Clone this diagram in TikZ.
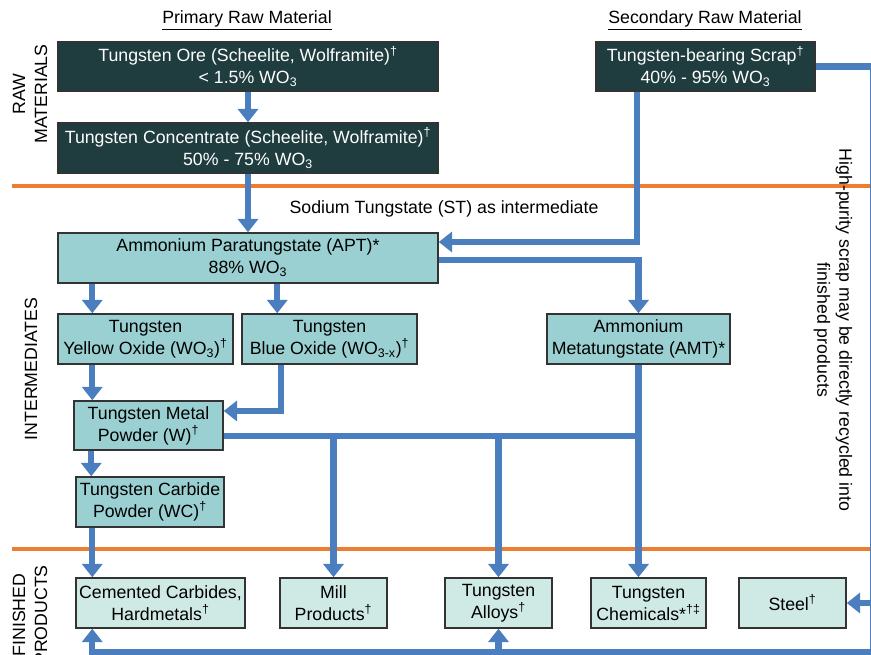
\documentclass[tikz,border=0pt]{standalone}
\usepackage{fontspec}
\setmainfont{Liberation Sans}
\usepackage{tikz}
\usetikzlibrary{arrows.meta}
\definecolor{rawfill}{HTML}{1F3C3E}
\definecolor{midfill}{HTML}{9BD0D2}
\definecolor{endfill}{HTML}{CFEAE4}
\definecolor{flowblue}{HTML}{4A7EBF}
\definecolor{lineorange}{HTML}{ED7D31}
\newcommand{\dg}{\textsuperscript{†}}
\newcommand{\wo}{WO\textsubscript{3}}
\tikzstyle{box}=[draw=black!80, line width=1.1pt, align=center, inner sep=1pt, font=\fontsize{13.3}{16.5}\selectfont]
\tikzstyle{rawbox}=[box, fill=rawfill, text=white]
\tikzstyle{midbox}=[box, fill=midfill]
\tikzstyle{endbox}=[box, fill=endfill, minimum height=37.5pt]
\tikzstyle{pipe}=[draw=flowblue, line width=4.8pt]
\tikzstyle{flow}=[pipe, -{Triangle[width=15pt,length=10pt]}]
\tikzstyle{divider}=[draw=lineorange, line width=2.4pt]
\tikzstyle{caption}=[font=\fontsize{13.3}{16.5}\selectfont, align=center]

\begin{document}
\begin{tikzpicture}[x=0.75pt, y=-0.75pt]
  \useasboundingbox (0,0) rectangle (871,655);
  % section dividers
  \draw[divider] (12,186) -- (871,186);
  \draw[divider] (12,549) -- (871,549);
  % headings
  \node[caption] (primhead) at (247,20) {\underline{Primary Raw Material}};
  \node[caption] (sechead) at (705,20) {\underline{Secondary Raw Material}};
  \node[caption, rotate=90] (rawlab) at (30,94) {RAW\\MATERIALS};
  \node[caption, rotate=90] (midlab) at (31,369) {INTERMEDIATES};
  \node[caption, rotate=90] (endlab) at (30,615) {FINISHED\\PRODUCTS};
  \node[caption, rotate=-90] (scraplab) at (833,330) {High-purity scrap may be directly recycled into\\finished products};
  % raw materials
  \node[rawbox, minimum width=285pt, minimum height=36.75pt] (ore) at (248,66.5) {Tungsten Ore (Scheelite, Wolframite)\dg\\< 1.5\% \wo};
  \node[rawbox, minimum width=285pt, minimum height=37.5pt] (conc) at (248,148) {Tungsten Concentrate (Scheelite, Wolframite)\dg\\50\% - 75\% \wo};
  \node[rawbox, minimum width=164.25pt, minimum height=36.75pt] (scrap) at (705.5,66.5) {Tungsten-bearing Scrap\dg\\40\% - 95\% \wo};
  % intermediates
  \node[midbox, minimum width=285pt, minimum height=37.5pt] (apt) at (248,258) {Ammonium Paratungstate (APT)*\\88\% \wo};
  \node[midbox, minimum width=131.25pt, minimum height=37.5pt] (yellow) at (145.5,339) {Tungsten\\Yellow Oxide (\wo)\dg};
  \node[midbox, minimum width=131.25pt, minimum height=37.5pt] (blue) at (329.5,339) {Tungsten\\Blue Oxide (WO\textsubscript{3-x})\dg};
  \node[midbox, minimum width=137.25pt, minimum height=37.5pt] (amt) at (638.5,339) {Ammonium\\Metatungstate (AMT)*};
  \node[midbox, minimum width=111.75pt, minimum height=36.75pt] (metal) at (148.5,425.5) {Tungsten Metal\\Powder (W)\dg};
  \node[midbox, minimum width=111pt, minimum height=37.5pt] (wc) at (150,502) {Tungsten Carbide\\Powder (WC)\dg};
  \node[caption] (stlab) at (444,209) {Sodium Tungstate (ST) as intermediate};
  % finished products
  \node[endbox, minimum width=126.75pt] (cemented) at (160.5,603) {Cemented Carbides,\\Hardmetals\dg};
  \node[endbox, minimum width=80.25pt] (mill) at (333.5,603) {Mill\\Products\dg};
  \node[endbox, minimum width=80.25pt] (alloys) at (498.5,603) {Tungsten\\Alloys\dg};
  \node[endbox, minimum width=86.25pt] (chem) at (648.5,603) {Tungsten\\Chemicals*\textsuperscript{†‡}};
  \node[endbox, minimum width=80.25pt] (steel) at (792.5,603) {Steel\dg};
  % flows
  \draw[flow] (ore) -- (conc);
  \draw[flow] (conc) -- (apt);
  \draw[flow] ([xshift=31.5pt]scrap.south west) |- ([yshift=12pt]apt.east);
  \draw[flow] ([yshift=-1.5pt]apt.east) -| (amt.north);
  \draw[flow] ([xshift=26.25pt]apt.south west) -- ([xshift=26.25pt]yellow.north west);
  \draw[flow] ([xshift=165pt]apt.south west) -- ([xshift=165pt]apt.south west |- blue.north);
  \draw[flow] ([xshift=26.25pt]yellow.south west) -- ([xshift=26.25pt]yellow.south west |- metal.north);
  \draw[flow] ([xshift=30pt]blue.south west) |- ([yshift=10.9pt]metal.east);
  \draw[flow] ([xshift=13.5pt]metal.south west) -- ([xshift=13.5pt]metal.south west |- wc.north);
  \draw[flow] ([xshift=12.75pt]wc.south west) -- ([xshift=12.75pt]wc.south west |- cemented.north);
  \coordinate (wbus) at ([yshift=-8pt]metal.east);
  \draw[pipe] (wbus) -- (wbus -| amt.south);
  \draw[flow] (wbus -| mill.north) -- (mill.north);
  \draw[flow] (wbus -| alloys.north) -- (alloys.north);
  \draw[flow] (amt.south) -- (amt.south |- chem.north);
  % direct recycling
  \coordinate (rtop) at (873,66.5);
  \coordinate (rbot) at (873,652);
  \draw[flow] (scrap.east) -- (rtop) -- (rbot) -| ([xshift=12.75pt]cemented.south west);
  \draw[flow] (rbot -| alloys.south) -- (alloys.south);
  \draw[flow] (rtop |- steel.east) -- (steel.east);
\end{tikzpicture}
\end{document}
